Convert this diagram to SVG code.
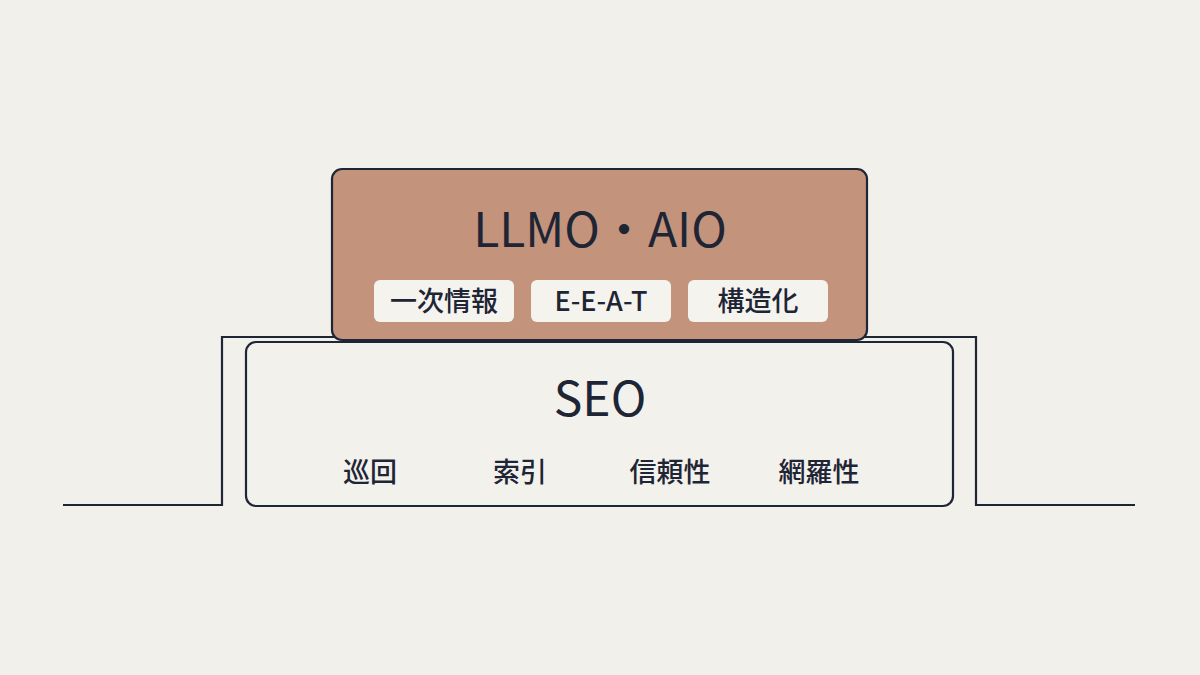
<svg xmlns="http://www.w3.org/2000/svg" width="1200" height="675" viewBox="0 0 1200 675">
<style>
.ln{fill:none;stroke:#1e2535;stroke-width:2.2;stroke-linejoin:miter}
.t{font-family:"Noto Sans CJK JP","Noto Sans",sans-serif;fill:#1e2535;text-anchor:middle;font-weight:500}
.h{font-weight:400}
.pill{fill:#f5f3ee}
</style>
<rect width="1200" height="675" fill="#f2f0eb"/>
<g id="connectors">
<path class="ln" d="M63 505 H222 V337 H976 V505 H1135"/>
</g>
<g id="seo">
<rect x="246" y="342" width="707" height="164" rx="10" fill="#f3f1ec" stroke="#1e2535" stroke-width="2.2"/>
<text class="t h" x="600" y="416" font-size="48">SEO</text>
<text class="t" x="370" y="482" font-size="27">巡回</text>
<text class="t" x="520" y="482" font-size="27">索引</text>
<text class="t" x="670" y="482" font-size="27">信頼性</text>
<text class="t" x="819" y="482" font-size="27">網羅性</text>
</g>
<g id="llmo">
<rect x="332" y="169" width="535" height="171" rx="10" fill="#c4937c" stroke="#1e2535" stroke-width="2.2"/>
<text class="t h" x="600" y="247" font-size="48">LLMO・AIO</text>
</g>
<g id="pill1">
<rect class="pill" x="374" y="280" width="140" height="42" rx="6"/>
<text class="t" x="444" y="311" font-size="27">一次情報</text>
</g>
<g id="pill2">
<rect class="pill" x="531" y="280" width="140" height="42" rx="6"/>
<text class="t" x="601" y="311" font-size="27">E-E-A-T</text>
</g>
<g id="pill3">
<rect class="pill" x="688" y="280" width="140" height="42" rx="6"/>
<text class="t" x="758" y="311" font-size="27">構造化</text>
</g>
</svg>
